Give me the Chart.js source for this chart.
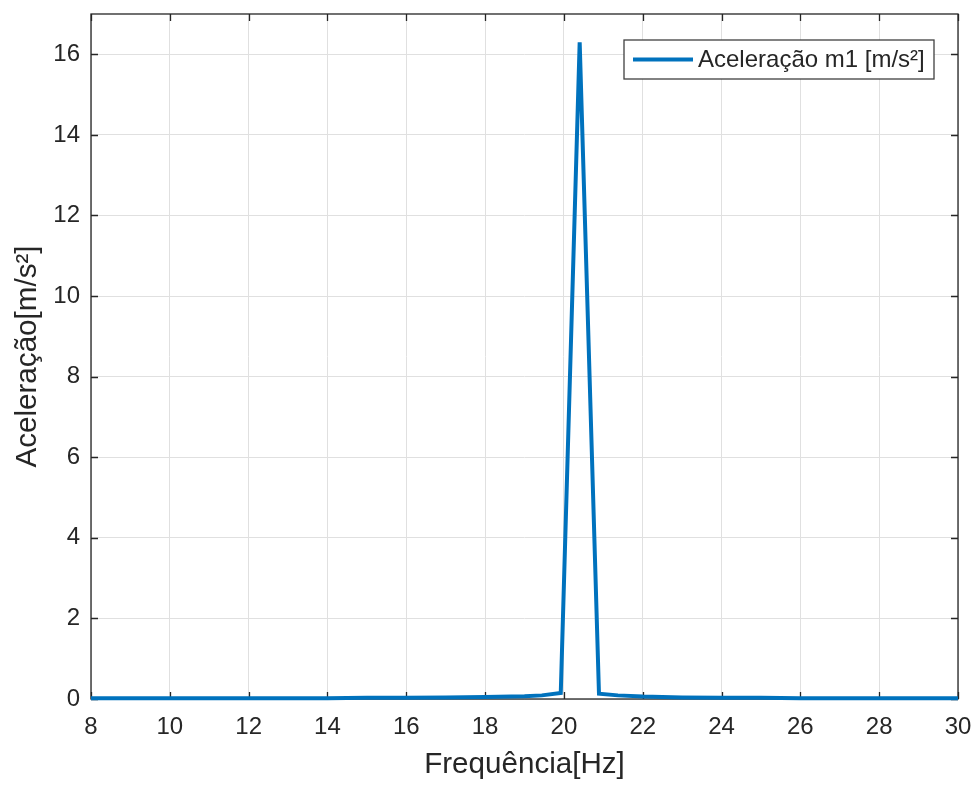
<!DOCTYPE html>
<html>
<head>
<meta charset="utf-8">
<title>Aceleração m1</title>
<script src="https://cdn.jsdelivr.net/npm/chart.js@4/dist/chart.umd.min.js"></script>
<style>
  html, body { margin: 0; padding: 0; background: #ffffff; }
  #wrap { width: 980px; height: 785px; }
</style>
</head>
<body>
<div id="wrap"><canvas id="chart" width="980" height="785"></canvas></div>
<script>
// Spectrum of the acceleration of mass m1
const frequencies = [8, 9, 10, 11, 12, 13, 14, 15, 16, 17, 18, 19, 19.44, 19.92, 20.40, 20.89, 21.37, 22, 23, 24, 25, 26, 27, 28, 29, 30];
const acceleration = [0.02, 0.02, 0.02, 0.02, 0.02, 0.02, 0.02, 0.03, 0.03, 0.04, 0.05, 0.07, 0.09, 0.15, 16.3, 0.13, 0.09, 0.06, 0.04, 0.03, 0.03, 0.02, 0.02, 0.02, 0.02, 0.02];
const xTicks = [8, 10, 12, 14, 16, 18, 20, 22, 24, 26, 28, 30];
const yTicks = [0, 2, 4, 6, 8, 10, 12, 14, 16];
const seriesLabel = 'Aceleração m1 [m/s²]';
const xTitle = 'Frequência[Hz]';
const yTitle = 'Aceleração[m/s²]';

const FONT = '"Liberation Sans", Arial, Helvetica, sans-serif';
const TEXT = '#262626';
const AXIS = '#262626';
const GRID = '#e0e0e0';
const BLUE = '#0072BD';

const points = frequencies.map((f, i) => ({ x: f, y: acceleration[i] }));

// Axes box with inward ticks on all four sides
const boxPlugin = {
  id: 'axesBox',
  beforeDatasetsDraw(chart) {
    const { ctx, chartArea: a, scales } = chart;
    const len = 7;
    ctx.save();
    ctx.strokeStyle = AXIS;
    ctx.lineWidth = 1.3;
    ctx.beginPath();
    xTicks.forEach(v => {
      const px = Math.round(scales.x.getPixelForValue(v)) + 0.5;
      ctx.moveTo(px, a.bottom); ctx.lineTo(px, a.bottom - len);
      ctx.moveTo(px, a.top); ctx.lineTo(px, a.top + len);
    });
    yTicks.forEach(v => {
      const py = Math.round(scales.y.getPixelForValue(v)) + 0.5;
      ctx.moveTo(a.left, py); ctx.lineTo(a.left + len, py);
      ctx.moveTo(a.right, py); ctx.lineTo(a.right - len, py);
    });
    ctx.stroke();
    ctx.strokeRect(a.left, a.top, a.right - a.left, a.bottom - a.top);
    ctx.restore();
  }
};

// Legend box in the upper right corner of the axes
const legendPlugin = {
  id: 'boxLegend',
  afterDatasetsDraw(chart) {
    const { ctx } = chart;
    const ds = chart.data.datasets[0];
    const x0 = 624, y0 = 40, w = 310, h = 39;
    ctx.save();
    ctx.fillStyle = '#ffffff';
    ctx.fillRect(x0, y0, w, h);
    ctx.strokeStyle = '#404040';
    ctx.lineWidth = 1.3;
    ctx.strokeRect(x0, y0, w, h);
    ctx.strokeStyle = ds.borderColor;
    ctx.lineWidth = ds.borderWidth;
    ctx.beginPath();
    ctx.moveTo(x0 + 9, y0 + h / 2);
    ctx.lineTo(x0 + 69, y0 + h / 2);
    ctx.stroke();
    ctx.fillStyle = TEXT;
    ctx.font = '24px ' + FONT;
    ctx.textBaseline = 'middle';
    ctx.textAlign = 'left';
    ctx.fillText(ds.label, x0 + 74, y0 + h / 2 + 1);
    ctx.restore();
  }
};

function noEdgePadding(scale) {
  scale.paddingTop = 0;
  scale.paddingBottom = 0;
  scale.paddingLeft = 0;
  scale.paddingRight = 0;
}

new Chart(document.getElementById('chart'), {
  type: 'scatter',
  data: {
    datasets: [{
      label: seriesLabel,
      data: points,
      showLine: true,
      borderColor: BLUE,
      backgroundColor: BLUE,
      borderWidth: 4,
      pointRadius: 0,
      tension: 0,
      clip: false
    }]
  },
  options: {
    responsive: false,
    animation: false,
    layout: { padding: { top: 14, right: 22, left: 0, bottom: 0 } },
    plugins: {
      legend: { display: false },
      tooltip: { enabled: false }
    },
    scales: {
      x: {
        type: 'linear',
        min: 8,
        max: 30,
        afterBuildTicks(scale) { scale.ticks = xTicks.map(v => ({ value: v })); },
        afterFit(scale) { scale.height = 86; noEdgePadding(scale); },
        grid: { color: GRID, lineWidth: 1, drawTicks: false },
        border: { display: false },
        ticks: {
          color: TEXT,
          font: { family: FONT, size: 24 },
          padding: 14,
          maxRotation: 0,
          autoSkip: false
        },
        title: {
          display: true,
          text: xTitle,
          color: TEXT,
          font: { family: FONT, size: 29.6 },
          padding: { top: 0, bottom: 2 }
        }
      },
      y: {
        type: 'linear',
        min: 0,
        max: 17,
        afterBuildTicks(scale) { scale.ticks = yTicks.map(v => ({ value: v })); },
        afterFit(scale) { scale.width = 91; noEdgePadding(scale); },
        grid: { color: GRID, lineWidth: 1, drawTicks: false },
        border: { display: false },
        ticks: {
          color: TEXT,
          font: { family: FONT, size: 24 },
          padding: 11,
          autoSkip: false
        },
        title: {
          display: true,
          text: yTitle,
          color: TEXT,
          font: { family: FONT, size: 29.6 },
          padding: { top: 10, bottom: 0 }
        }
      }
    }
  },
  plugins: [boxPlugin, legendPlugin]
});
</script>
</body>
</html>
